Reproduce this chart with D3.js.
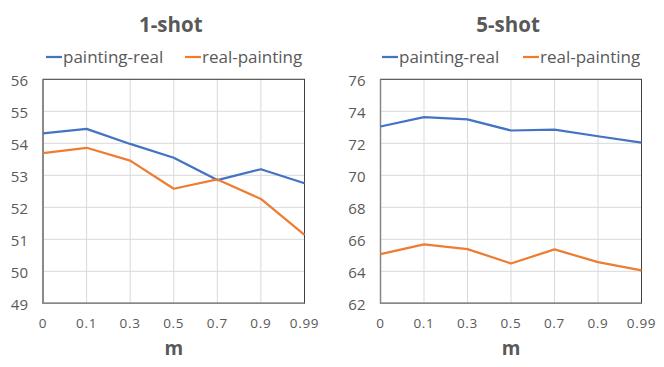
<!DOCTYPE html>
<html>
<head>
<meta charset="utf-8">
<script src="https://cdn.jsdelivr.net/npm/d3@7"></script>
<style>
  body { margin: 0; background: #fff; }
  text { font-family: "Open Sans", sans-serif; fill: #595959; }
</style>
</head>
<body>
<svg id="chart" width="664" height="367"></svg>
<script>
"use strict"

const categories = ["0", "0.1", "0.3", "0.5", "0.7", "0.9", "0.99"]
const seriesNames = ["painting-real", "real-painting"]
const colors = ["#4472C4", "#ED7D31"]

const oneShotPaintingReal = [54.31, 54.45, 53.98, 53.55, 52.85, 53.19, 52.75]
const oneShotRealPainting = [53.69, 53.86, 53.46, 52.58, 52.87, 52.26, 51.14]
const oneShotTicks = [49, 50, 51, 52, 53, 54, 55, 56]

const fiveShotPaintingReal = [73.05, 73.64, 73.50, 72.80, 72.86, 72.44, 72.04]
const fiveShotRealPainting = [65.07, 65.68, 65.39, 64.49, 65.37, 64.57, 64.06]
const fiveShotTicks = [62, 64, 66, 68, 70, 72, 74, 76]

const panels = [
    { title: "1-shot", series: [oneShotPaintingReal, oneShotRealPainting], ticks: oneShotTicks,
      left: 43, right: 304.5, legendX: [46, 185] },
    { title: "5-shot", series: [fiveShotPaintingReal, fiveShotRealPainting], ticks: fiveShotTicks,
      left: 380.5, right: 641.5, legendX: [382, 523] }
]

const svg = d3.select("#chart")
const plotTop = 79.3, plotBottom = 303.3

panels.forEach(p => {
    const g = svg.append("g")
    const x = d3.scalePoint().domain(categories).range([p.left, p.right])
    const y = d3.scaleLinear().domain(d3.extent(p.ticks)).range([plotBottom, plotTop])

    // gridlines
    g.selectAll(".hgrid").data(p.ticks).enter().append("line")
        .attr("x1", p.left).attr("x2", p.right)
        .attr("y1", d => y(d)).attr("y2", d => y(d))
        .attr("stroke", "#d9d9d9").attr("stroke-width", 1)
    g.selectAll(".vgrid").data(categories).enter().append("line")
        .attr("x1", d => x(d)).attr("x2", d => x(d))
        .attr("y1", plotTop).attr("y2", plotBottom)
        .attr("stroke", "#d9d9d9").attr("stroke-width", 1)

    // plot border
    g.append("rect")
        .attr("x", p.left).attr("y", plotTop)
        .attr("width", p.right - p.left).attr("height", plotBottom - plotTop)
        .attr("fill", "none").attr("stroke", "#404040").attr("stroke-width", 1)
    g.append("path")
        .attr("d", `M${p.left},${plotTop}V${plotBottom}H${p.right}`)
        .attr("fill", "none").attr("stroke", "#868686").attr("stroke-width", 1.5)

    // y tick labels
    g.selectAll(".ytick").data(p.ticks).enter().append("text")
        .attr("x", p.left - 15).attr("y", d => y(d) + 7)
        .attr("text-anchor", "end")
        .style("font-size", "15px")
        .text(d => d)

    // x tick labels
    g.selectAll(".xtick").data(categories).enter().append("text")
        .attr("x", d => x(d)).attr("y", 327.5)
        .attr("text-anchor", "middle")
        .style("font-size", "13.5px").style("letter-spacing", "0.7px")
        .text(d => d)

    // axis title
    g.append("text")
        .attr("x", (p.left + p.right) / 2).attr("y", 355)
        .attr("text-anchor", "middle")
        .style("font-size", "19px").style("font-weight", "bold")
        .text("m")

    // chart title
    g.append("text")
        .attr("x", (p.left + p.right) / 2 - 3).attr("y", 31.5)
        .attr("text-anchor", "middle")
        .style("font-size", "20.5px").style("font-weight", "bold")
        .text(p.title)

    // lines
    const line = d3.line().x((d, i) => x(categories[i])).y(d => y(d))
    p.series.forEach((s, i) => {
        g.append("path")
            .datum(s)
            .attr("d", line)
            .attr("fill", "none")
            .attr("stroke", colors[i])
            .attr("stroke-width", 2.25)
            .attr("stroke-linejoin", "round")
    })

    // legend
    seriesNames.forEach((name, i) => {
        const lx = p.legendX[i]
        g.append("line")
            .attr("x1", lx).attr("x2", lx + 16)
            .attr("y1", 57).attr("y2", 57)
            .attr("stroke", colors[i]).attr("stroke-width", 2.25)
        g.append("text")
            .attr("x", lx + 17).attr("y", 62.5)
            .style("font-size", "17px")
            .text(name)
    })
})
</script>
</body>
</html>
